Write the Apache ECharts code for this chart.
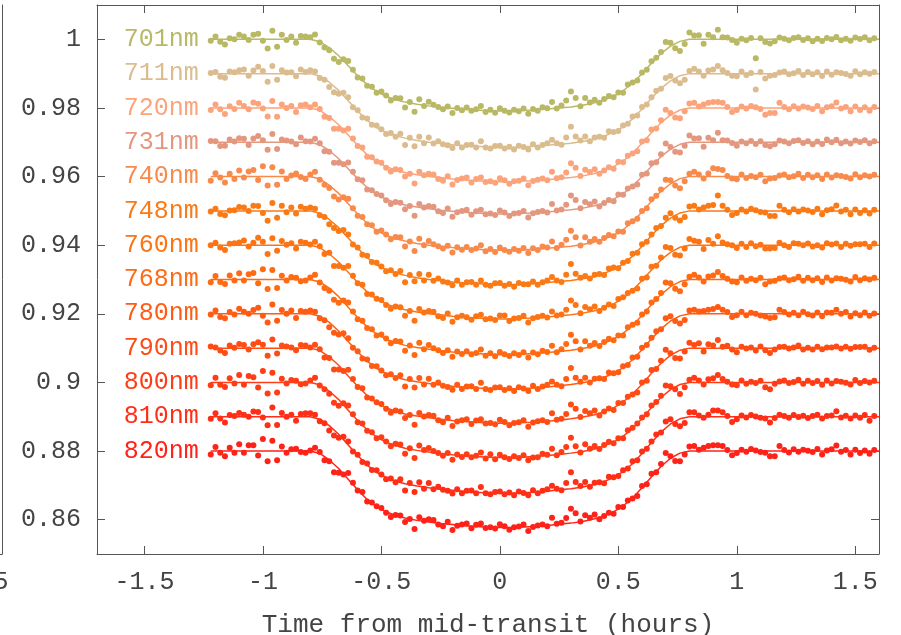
<!DOCTYPE html>
<html><head><meta charset="utf-8">
<script src="https://cdn.jsdelivr.net/npm/echarts@6/dist/echarts.min.js"></script>
<style>html,body{margin:0;padding:0;background:#fff}#c{width:901px;height:635px}</style>
</head><body><div id="c"></div>
<script>
// Time stamps (hours from mid-transit)
const times = [-1.22,-1.2,-1.18,-1.16,-1.14,-1.12,-1.1,-1.08,-1.06,-1.04,-1.02,-1,-0.98,-0.96,-0.94,-0.92,-0.9,-0.88,-0.86,-0.84,-0.82,
-0.8,-0.78,-0.76,-0.74,-0.72,-0.7,-0.68,-0.66,-0.64,-0.62,-0.6,-0.58,-0.56,-0.54,-0.52,-0.5,-0.48,-0.46,-0.44,-0.42,
-0.4,-0.38,-0.36,-0.34,-0.32,-0.3,-0.28,-0.26,-0.24,-0.22,-0.2,-0.18,-0.16,-0.14,-0.12,-0.1,-0.08,-0.06,-0.04,-0.02,
0,0.02,0.04,0.06,0.08,0.1,0.12,0.14,0.16,0.18,0.2,0.22,0.24,0.26,0.28,0.3,0.32,0.34,0.36,0.38,
0.4,0.42,0.44,0.46,0.48,0.5,0.52,0.54,0.56,0.58,0.6,0.62,0.64,0.66,0.68,0.7,0.72,0.74,0.76,0.78,
0.8,0.82,0.84,0.86,0.88,0.9,0.92,0.94,0.96,0.98,1,1.02,1.04,1.06,1.08,1.1,1.12,1.14,1.16,1.18,
1.2,1.22,1.24,1.26,1.28,1.3,1.32,1.34,1.36,1.38,1.4,1.42,1.44,1.46,1.48,1.5,1.52,1.54,1.56,1.58];

const wavelengths = ['701nm','711nm','720nm','731nm','740nm','748nm','760nm','768nm','780nm','790nm','800nm','810nm','820nm'];
// vertical offsets applied for display (relative flux of each baseline)
const offsets = [1.00,0.99,0.98,0.97,0.96,0.95,0.94,0.93,0.92,0.91,0.90,0.89,0.88];
const colors = ['#b9b865','#dbbc8f','#fba47c','#e4977f','#f88a4c','#fa7a16','#fd7415','#ff6a12','#ff5b13','#ff4c14','#ff3c16','#ff2e16','#ff2218'];

// Flux deviations from each baseline, in units of 1e-4
const flux701 = [-4,8,-7,-15,3,0,13,8,-2,13,16,-4,-27,25,-22,13,-2,8,-10,10,8,
6,14,-9,-24,-32,-57,-66,-58,-63,-89,-111,-114,-135,-138,-156,-152,-164,-178,-171,-172,-199,-183,-211,-175,-194,-182,-191,-197,-204,-196,-215,-200,-207,-199,-208,-204,-194,-212,-205,-214,-201,-208,-213,-205,-210,-202,-217,-203,-208,-198,-201,-183,-202,-193,-178,-152,-171,-195,-171,-184,-176,-185,-174,-165,-169,-155,-156,-132,-126,-120,-97,-89,-64,-54,-37,-8,-10,-26,-34,-14,
20,11,12,-13,13,6,28,6,5,-2,-10,2,-3,4,-55,3,-8,-12,-6,5,2,-3,4,6,-2,3,-6,2,-5,4,0,7,-3,2,-4,5,1,6,-3,3];
const flux711 = [2,5,-9,-12,6,4,10,12,-6,9,20,8,-24,22,-18,10,3,4,-8,12,5,
10,6,-13,-18,-39,-54,-59,-56,-69,-98,-107,-128,-131,-149,-151,-162,-176,-173,-184,-175,-208,-187,-212,-184,-203,-186,-204,-197,-206,-209,-217,-203,-215,-208,-207,-215,-197,-215,-218,-211,-210,-218,-213,-221,-210,-214,-221,-206,-215,-208,-203,-193,-203,-207,-186,-155,-183,-195,-183,-197,-186,-184,-187,-168,-170,-167,-151,-146,-125,-122,-97,-90,-69,-50,-44,-13,-7,-20,-28,-18,
8,14,6,-6,9,12,22,10,2,-6,-8,6,-4,2,-46,5,-14,-6,-4,3,6,-2,1,8,-4,5,-2,4,-7,6,-3,4,2,-1,-6,7,-2,4,0,5];
const flux720 = [-6,10,-4,-18,5,-3,15,6,-4,16,12,-2,-25,20,-26,10,0,6,-12,8,10,
2,10,-3,-26,-29,-61,-61,-66,-61,-89,-111,-115,-142,-144,-156,-160,-174,-185,-179,-181,-200,-192,-220,-186,-196,-192,-194,-207,-212,-199,-223,-210,-206,-203,-217,-207,-203,-216,-214,-218,-205,-211,-221,-214,-212,-206,-225,-213,-209,-206,-211,-186,-205,-202,-188,-161,-174,-198,-180,-187,-179,-192,-182,-173,-177,-157,-158,-139,-133,-126,-98,-94,-63,-60,-36,-5,-15,-28,-30,-10,
13,15,4,10,15,17,17,15,3,-12,-6,4,-2,6,2,-3,-20,-15,-15,15,3,-4,5,-2,4,1,-3,6,-10,2,5,16,-2,3,-10,4,-6,2,-8,3];
const flux731 = [4,3,-11,-10,8,2,12,10,-8,11,18,6,-22,24,-20,8,5,2,-6,14,3,
2,10,-3,-26,-28,-60,-60,-64,-59,-86,-108,-111,-138,-140,-151,-155,-169,-180,-174,-176,-195,-186,-214,-180,-190,-186,-188,-201,-206,-193,-217,-204,-200,-197,-211,-201,-197,-210,-208,-212,-199,-205,-215,-208,-206,-200,-219,-207,-203,-200,-205,-180,-199,-196,-182,-155,-168,-192,-174,-181,-173,-187,-177,-168,-172,-152,-153,-135,-129,-123,-95,-91,-61,-58,-35,-4,-14,-28,-30,-10,
20,11,12,-13,13,6,28,6,5,-2,-10,2,-3,4,-5,3,-8,-12,-6,5,2,-3,4,6,-2,3,-6,2,-5,8,0,7,-3,2,-4,5,1,6,-3,3];
const flux740 = [-12,10,-3,-17,8,-7,18,-3,15,19,-10,30,-26,27,-24,15,-7,3,9,-1,-7,
6,14,-9,-24,-33,-58,-67,-60,-65,-92,-114,-118,-139,-142,-161,-157,-169,-183,-176,-177,-204,-189,-217,-181,-200,-188,-197,-203,-210,-202,-221,-206,-213,-205,-214,-210,-200,-218,-211,-220,-207,-214,-219,-211,-216,-208,-223,-209,-214,-204,-207,-189,-208,-199,-184,-158,-177,-201,-177,-190,-182,-190,-179,-170,-174,-160,-161,-136,-130,-123,-100,-92,-66,-56,-38,-9,-11,-26,-34,-14,
8,14,6,-6,9,24,22,19,2,-6,-8,6,-4,2,-2,5,-14,-6,-4,3,6,-2,1,8,-4,5,-2,4,-7,6,-3,4,2,-1,-6,7,-2,4,0,5];
const flux748 = [-2,6,-9,-13,1,2,11,10,0,15,14,-6,-29,23,-20,15,-4,10,-8,12,6,
10,6,-13,-18,-39,-50,-59,-56,-69,-98,-107,-128,-131,-149,-151,-162,-176,-173,-184,-175,-208,-187,-205,-184,-203,-186,-204,-197,-206,-209,-217,-203,-215,-208,-207,-215,-203,-215,-218,-211,-210,-218,-213,-221,-210,-214,-214,-206,-215,-208,-203,-193,-203,-207,-186,-155,-183,-195,-190,-197,-186,-184,-187,-168,-165,-167,-151,-146,-125,-122,-97,-90,-69,-50,-44,-20,-7,-20,-28,-18,
13,15,4,10,15,17,45,15,3,-12,-6,4,-2,6,2,-3,-5,-15,-15,15,3,-4,5,-2,4,1,-3,6,-10,2,5,16,-2,3,-10,4,-6,2,-8,3];
const flux760 = [0,7,-7,-14,4,6,8,14,-4,7,22,10,-26,20,-16,12,1,6,-10,10,7,
2,10,-3,-26,-22,-61,-61,-66,-61,-89,-111,-115,-142,-144,-156,-160,-174,-185,-179,-181,-206,-192,-220,-186,-196,-192,-194,-207,-212,-199,-223,-210,-206,-210,-217,-207,-203,-216,-214,-218,-205,-205,-221,-214,-212,-206,-225,-213,-209,-206,-211,-193,-205,-202,-188,-161,-174,-198,-180,-187,-179,-192,-182,-173,-177,-157,-152,-139,-133,-126,-98,-94,-63,-60,-36,-5,-8,-28,-30,-10,
18,13,10,-11,15,4,26,8,3,0,-8,4,-5,6,-3,1,-10,-10,-8,7,0,-5,6,4,0,5,-4,0,-7,6,2,5,-5,4,-2,3,3,4,-5,5];
const flux768 = [-8,10,-7,-13,12,-3,18,-3,15,19,-11,30,-28,28,-25,11,-3,7,5,-5,-3,
6,14,-9,-25,-33,-59,-68,-61,-67,-93,-116,-120,-141,-145,-163,-160,-172,-186,-179,-181,-208,-192,-220,-184,-203,-191,-200,-206,-214,-206,-225,-210,-217,-209,-218,-214,-204,-222,-215,-224,-211,-218,-223,-215,-220,-212,-227,-213,-218,-208,-211,-193,-212,-203,-188,-161,-180,-204,-180,-193,-185,-194,-182,-173,-177,-163,-163,-139,-132,-126,-102,-93,-67,-57,-39,-9,-11,-27,-34,-14,
8,14,6,-6,9,12,22,10,2,-6,-8,6,-4,2,-2,5,-14,-6,-4,3,6,-2,1,8,-4,5,-2,4,-7,6,-3,4,2,-1,-6,7,-2,4,0,5];
const flux780 = [-2,10,-9,-13,5,-2,15,6,0,11,18,-6,-25,27,-20,11,0,10,-12,8,6,
10,6,-13,-19,-39,-55,-60,-57,-71,-99,-109,-130,-133,-152,-153,-165,-179,-176,-187,-179,-212,-190,-215,-187,-206,-189,-207,-200,-210,-213,-221,-207,-219,-212,-211,-219,-201,-219,-222,-215,-214,-222,-217,-225,-214,-218,-225,-210,-219,-212,-207,-197,-207,-211,-190,-158,-186,-198,-186,-200,-189,-188,-190,-171,-173,-170,-153,-149,-127,-125,-99,-91,-70,-51,-45,-13,-7,-21,-28,-18,
10,12,7,8,12,14,20,12,5,-9,-4,6,-4,3,0,-5,-8,-12,-10,12,5,-2,3,-4,6,-1,-5,4,-7,4,3,12,0,5,-8,2,-4,4,-6,1];
const flux790 = [5,2,-7,-14,8,1,12,9,-4,11,17,10,-22,25,-16,8,5,2,-6,9,8,
2,10,-3,-27,-29,-62,-62,-67,-63,-90,-113,-117,-144,-147,-158,-163,-177,-188,-182,-185,-204,-195,-223,-189,-199,-195,-197,-210,-216,-203,-227,-214,-210,-207,-221,-211,-207,-220,-218,-222,-209,-215,-225,-218,-216,-210,-229,-217,-213,-210,-215,-190,-209,-206,-192,-164,-177,-201,-183,-190,-182,-196,-185,-176,-180,-160,-160,-142,-135,-129,-100,-95,-64,-61,-37,-5,-15,-29,-30,-10,
16,9,14,-10,11,8,24,4,7,-4,-12,4,-1,2,-7,5,-6,-14,-4,3,4,-1,2,8,-4,1,-4,4,-3,2,2,5,-1,4,-2,3,3,4,-5,1];
const flux800 = [-8,14,-7,-13,12,-3,22,-7,19,15,-15,33,-32,28,-29,11,-3,7,5,-5,-3,
6,14,-9,-20,-33,-59,-68,-61,-67,-93,-116,-120,-141,-145,-163,-160,-172,-186,-179,-181,-208,-192,-220,-184,-197,-191,-200,-206,-214,-206,-225,-210,-217,-209,-218,-214,-204,-222,-209,-224,-211,-218,-223,-215,-220,-212,-227,-219,-218,-208,-211,-193,-212,-203,-188,-161,-186,-204,-180,-193,-185,-194,-182,-173,-177,-163,-163,-139,-132,-120,-102,-93,-67,-57,-39,-9,-11,-20,-34,-14,
8,14,6,-6,9,12,22,10,2,-6,-8,6,-4,2,-2,5,-14,-20,-4,3,6,-2,1,8,-4,5,-2,4,-7,6,-3,4,2,-1,-6,7,-2,4,0,5];
const flux810 = [-6,10,-5,-17,5,2,11,6,0,15,14,-2,-25,27,-24,11,0,6,-12,8,10,
10,6,-13,-19,-40,-55,-61,-58,-72,-101,-111,-132,-136,-155,-156,-168,-182,-180,-191,-182,-215,-193,-219,-191,-210,-193,-211,-204,-213,-216,-224,-211,-223,-216,-215,-223,-205,-223,-226,-219,-218,-226,-221,-229,-218,-222,-229,-214,-223,-216,-211,-201,-210,-214,-193,-162,-190,-202,-190,-204,-192,-191,-194,-175,-176,-173,-156,-151,-130,-127,-101,-93,-72,-52,-46,-14,-7,-21,-28,-18,
13,13,4,-3,6,18,18,13,2,-15,-7,4,-2,5,1,-3,-5,-17,-4,6,2,-3,5,-1,3,-4,2,6,-5,2,4,16,-2,3,-5,4,-3,5,-12,2];
const flux820 = [-10,12,-5,-15,10,-5,20,-5,17,17,-13,35,-30,30,-27,13,-5,5,7,-3,-5,
2,10,-3,-27,-30,-62,-63,-68,-64,-92,-115,-119,-147,-150,-161,-166,-180,-192,-186,-188,-207,-198,-227,-193,-203,-199,-201,-214,-219,-206,-230,-218,-214,-211,-225,-215,-211,-224,-222,-226,-213,-219,-229,-222,-220,-214,-233,-221,-217,-214,-219,-194,-212,-209,-195,-168,-181,-205,-187,-194,-185,-199,-189,-180,-183,-163,-163,-144,-138,-131,-102,-97,-66,-62,-38,-6,-15,-29,-30,-10,
13,15,4,10,15,17,17,15,3,-12,-6,4,-2,6,2,-3,-5,-15,-15,15,3,-4,5,-2,4,1,-3,6,-10,2,5,16,-2,3,-10,4,-6,2,-8,3];
const fluxes = [flux701,flux711,flux720,flux731,flux740,flux748,flux760,flux768,flux780,flux790,flux800,flux810,flux820];

// Fitted transit model curves (deviation from baseline, 1e-4 units)
const modelTimes = [-1.22,-0.8,-0.76,-0.72,-0.68,-0.64,-0.6,-0.56,-0.52,-0.48,-0.44,-0.4,-0.35,-0.3,-0.25,-0.2,-0.15,-0.1,-0.05,0,0.05,0.1,0.15,0.2,0.25,0.3,0.35,0.4,0.44,0.48,0.52,0.56,0.6,0.64,0.68,0.72,0.76,0.8,1.6];
const modelA = [0,0,-7,-24,-48,-77,-106,-132,-152,-166,-176,-183,-189,-194,-198,-201,-204,-206,-208,-209,-209,-207,-206,-203,-200,-197,-192,-185,-177,-166,-150,-128,-100,-70,-42,-20,-6,0,0];
const modelB = [0,0,-7,-25,-49,-79,-109,-136,-157,-171,-181,-188,-195,-200,-203,-207,-210,-212,-214,-215,-215,-213,-212,-209,-206,-203,-198,-191,-182,-171,-155,-132,-103,-72,-43,-21,-6,0,0];
const modelC = [0,0,-7,-25,-50,-81,-111,-138,-159,-174,-184,-192,-198,-203,-207,-211,-214,-216,-218,-219,-219,-217,-216,-213,-210,-206,-201,-194,-185,-174,-157,-134,-105,-73,-44,-21,-6,0,0];
const modelD = [0,0,-7,-26,-51,-82,-113,-141,-162,-177,-188,-195,-202,-207,-211,-214,-218,-220,-222,-223,-223,-221,-220,-217,-213,-210,-205,-197,-189,-177,-160,-137,-107,-75,-45,-21,-6,0,0];
const models = [modelA,modelB,modelB,modelA,modelB,modelB,modelB,modelC,modelC,modelC,modelC,modelD,modelD];

const xTicks = [-1.5,-1,-0.5,0,0.5,1,1.5];
const yTicks = [0.86,0.88,0.9,0.92,0.94,0.96,0.98,1];

const FONT = 'Liberation Mono';
const AX = '#555';
const TXT = '#444';
const chart = echarts.init(document.getElementById('c'), null, {renderer:'canvas'});

const series = [];
wavelengths.forEach((w, k) => {
  const off = offsets[k], col = colors[k], f = fluxes[k], m = models[k];
  series.push({
    type:'scatter', name:w, xAxisIndex:0, yAxisIndex:0,
    data: times.map((t,i) => [t, off + f[i]/10000]),
    symbolSize:6, itemStyle:{color:col, opacity:1}, silent:true, z:2
  });
  series.push({
    type:'line', name:w + ' fit', xAxisIndex:0, yAxisIndex:0,
    data: modelTimes.map((t,i) => {
      const d = {value:[t, off + m[i]/10000]};
      if (i === 0) d.label = {show:true, position:'left', distance:12, formatter:w,
        color:col, fontFamily:FONT, fontSize:25};
      return d;
    }),
    showSymbol:true, showAllSymbol:true, symbol:'circle', symbolSize:0,
    itemStyle:{color:col}, lineStyle:{color:col, width:1.5},
    silent:true, z:3
  });
});

const tickStyle = {color:AX, width:1};
const option = {
  animation:false,
  backgroundColor:'#fff',
  grid:[
    {left:97, right:22, top:5, bottom:81, containLabel:false, outerBoundsMode:'none'},
    {left:-400, width:402, top:5, bottom:81, containLabel:false, outerBoundsMode:'none'}
  ],
  xAxis:[
    {type:'value', gridIndex:0, min:-1.7, max:1.6, position:'bottom',
     axisLine:{show:true, onZero:false, lineStyle:tickStyle},
     axisTick:{show:true, inside:true, length:8, customValues:xTicks, lineStyle:tickStyle},
     axisLabel:{customValues:xTicks, formatter:v => String(v), margin:16,
       fontFamily:FONT, fontSize:25, color:TXT},
     splitLine:{show:false},
     name:'Time from mid-transit (hours)', nameLocation:'middle', nameGap:58,
     nameTextStyle:{fontFamily:FONT, fontSize:26, color:TXT}},
    {type:'value', gridIndex:0, min:-1.7, max:1.6, position:'top',
     axisLine:{show:true, onZero:false, lineStyle:tickStyle},
     axisTick:{show:true, inside:true, length:8, customValues:xTicks, lineStyle:tickStyle},
     axisLabel:{show:false}, splitLine:{show:false}},
    {type:'value', gridIndex:1, min:0, max:1.5625, position:'bottom',
     axisLine:{show:true, onZero:false, lineStyle:tickStyle},
     axisTick:{show:false},
     axisLabel:{customValues:[1.5], formatter:v => String(v), margin:16,
       fontFamily:FONT, fontSize:25, color:TXT},
     splitLine:{show:false}}
  ],
  yAxis:[
    {type:'value', gridIndex:0, min:0.85, max:1.01, position:'left',
     axisLine:{show:true, onZero:false, lineStyle:tickStyle},
     axisTick:{show:true, inside:true, length:8, customValues:yTicks, lineStyle:tickStyle},
     axisLabel:{customValues:yTicks, formatter:v => String(+v.toFixed(2)), margin:16,
       fontFamily:FONT, fontSize:25, color:TXT},
     splitLine:{show:false}},
    {type:'value', gridIndex:0, min:0.85, max:1.01, position:'right',
     axisLine:{show:true, onZero:false, lineStyle:tickStyle},
     axisTick:{show:true, inside:true, length:8, customValues:yTicks, lineStyle:tickStyle},
     axisLabel:{show:false}, splitLine:{show:false}},
    {type:'value', gridIndex:1, min:0.85, max:1.01, position:'right',
     axisLine:{show:true, onZero:false, lineStyle:tickStyle},
     axisTick:{show:false}, axisLabel:{show:false}, splitLine:{show:false}}
  ],
  series: series
};
chart.setOption(option);
</script></body></html>
